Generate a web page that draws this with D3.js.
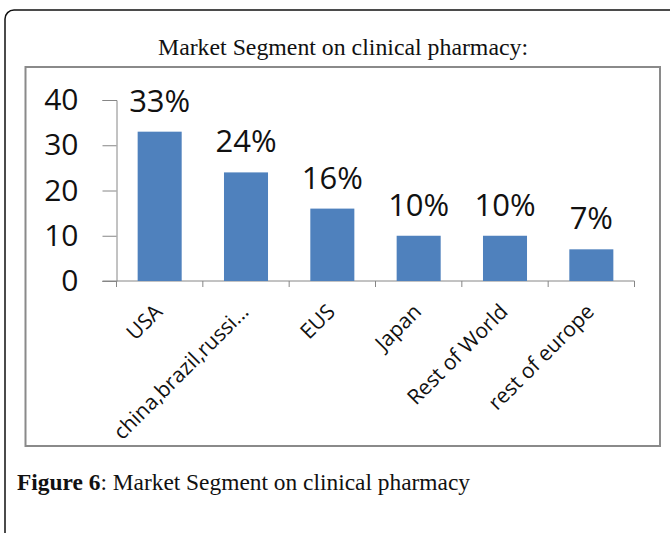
<!DOCTYPE html>
<html>
<head>
<meta charset="utf-8">
<script src="https://cdn.jsdelivr.net/npm/d3@7"></script>
<style>
  body { margin: 0; background: #fff; }
  svg { display: block; }
</style>
</head>
<body>
<svg id="chart" width="670" height="533"></svg>
<script>
// chart values
const categories = ['USA', 'china,brazil,russi...', 'EUS', 'Japan', 'Rest of World', 'rest of europe'];
const shares = [33, 24, 16, 10, 10, 7];
const shareLabels = ['33%', '24%', '16%', '10%', '10%', '7%'];
const yTicks = [0, 10, 20, 30, 40];

const chartTitle = 'Market Segment on clinical pharmacy:';
const captionBold = 'Figure 6';
const captionText = ': Market Segment on clinical pharmacy';

const svg = d3.select('#chart');
const sansFont = '"Open Sans", "Noto Sans", sans-serif';
const serifFont = '"Liberation Serif", "DejaVu Serif", serif';
const axisColor = '#868686';

// outer rounded frame, running off the right and bottom edges
svg.append('rect')
    .attr('x', 5)
    .attr('y', 10)
    .attr('width', 700)
    .attr('height', 560)
    .attr('rx', 9)
    .attr('fill', 'none')
    .attr('stroke', '#111')
    .attr('stroke-width', 1.5);

// chart area box
svg.append('rect')
    .attr('x', 25.5)
    .attr('y', 67)
    .attr('width', 634.5)
    .attr('height', 379)
    .attr('fill', '#fff')
    .attr('stroke', '#8a8a8a')
    .attr('stroke-width', 2);

// title
svg.append('text')
    .attr('x', 343)
    .attr('y', 55)
    .attr('text-anchor', 'middle')
    .attr('font-family', serifFont)
    .attr('font-size', 23.8)
    .attr('fill', '#111')
    .text(chartTitle);

// scales
const x = d3.scaleBand()
    .domain(categories)
    .range([116.5, 634.5])
    .paddingInner(0.49)
    .paddingOuter(0.245);

const y = d3.scaleLinear()
    .domain([0, 40])
    .range([281, 100]);

const plot = svg.append('g');

// y axis
const yAxis = plot.append('g')
    .attr('transform', `translate(${x.range()[0]},0)`)
    .call(d3.axisLeft(y).tickValues(yTicks).tickSize(14).tickPadding(24).tickFormat(d3.format('d')));
yAxis.select('.domain').attr('stroke', axisColor);
yAxis.selectAll('.tick line').attr('stroke', axisColor);
yAxis.selectAll('.tick text')
    .attr('font-family', sansFont)
    .attr('font-size', 30)
    .attr('fill', '#111');

// x axis baseline and boundary ticks
plot.append('line')
    .attr('x1', x.range()[0] - 14)
    .attr('x2', x.range()[1])
    .attr('y1', y(0))
    .attr('y2', y(0))
    .attr('stroke', axisColor);

const gap = (x.step() - x.bandwidth()) / 2;
const boundaries = categories.map(c => x(c) - gap).concat([x.range()[1]]);
plot.selectAll('.x-tick')
    .data(boundaries)
    .join('line')
    .attr('class', 'x-tick')
    .attr('x1', d => d)
    .attr('x2', d => d)
    .attr('y1', y(0))
    .attr('y2', y(0) + 6)
    .attr('stroke', axisColor);

// bars
plot.selectAll('.bar')
    .data(shares)
    .join('rect')
    .attr('class', 'bar')
    .attr('x', (d, i) => x(categories[i]))
    .attr('y', d => y(d))
    .attr('width', x.bandwidth())
    .attr('height', d => y(0) - y(d))
    .attr('fill', '#4f81bd');

// value labels
plot.selectAll('.value-label')
    .data(shares)
    .join('text')
    .attr('class', 'value-label')
    .attr('x', (d, i) => x(categories[i]) + x.bandwidth() / 2)
    .attr('y', d => y(d) - 20)
    .attr('text-anchor', 'middle')
    .attr('font-family', sansFont)
    .attr('font-size', 31)
    .attr('fill', '#111')
    .text((d, i) => shareLabels[i]);

// rotated category labels
plot.selectAll('.cat-label')
    .data(categories)
    .join('text')
    .attr('class', 'cat-label')
    .attr('transform', d => `translate(${x(d) + x.bandwidth() / 2 + 4},313) rotate(-45)`)
    .attr('text-anchor', 'end')
    .attr('font-family', sansFont)
    .attr('font-size', 21)
    .attr('fill', '#111')
    .text(d => d);

// figure caption
const caption = svg.append('text')
    .attr('x', 17)
    .attr('y', 490)
    .attr('font-family', serifFont)
    .attr('font-size', 23.4)
    .attr('fill', '#111');
caption.append('tspan').attr('font-weight', 'bold').text(captionBold);
caption.append('tspan').text(captionText);
</script>
</body>
</html>
